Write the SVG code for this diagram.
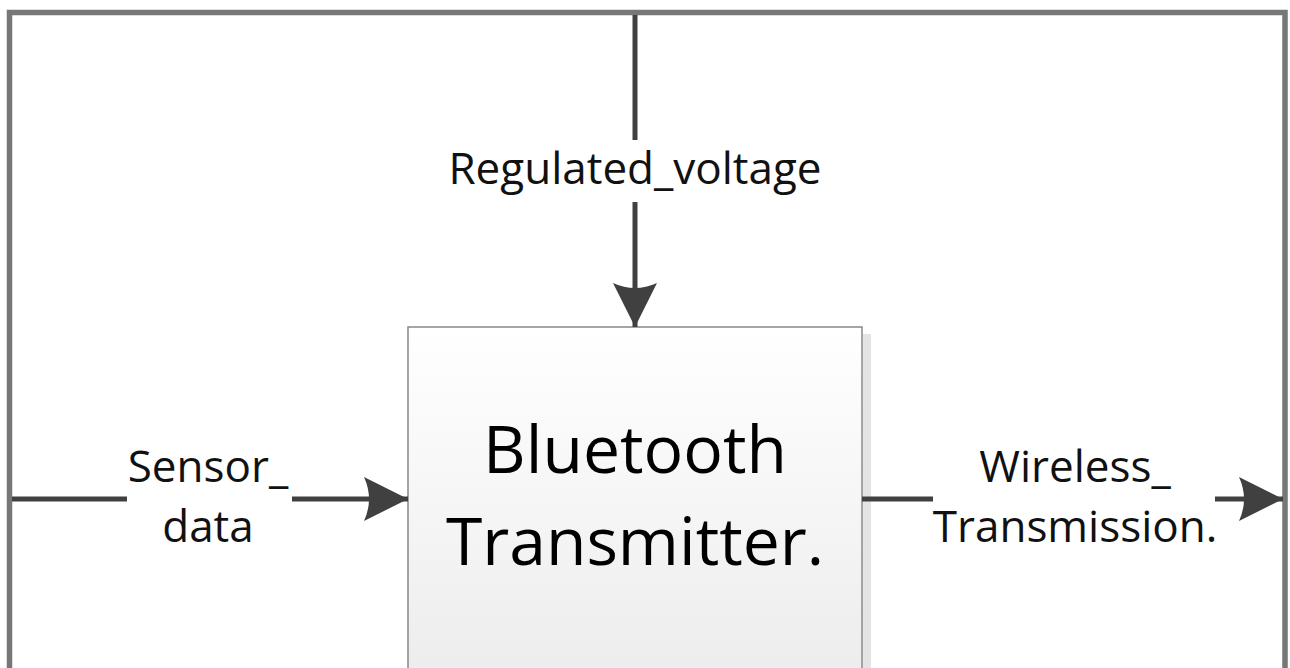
<svg xmlns="http://www.w3.org/2000/svg" width="1290" height="668" viewBox="0 0 1290 668">
<style>
.lbl{font-family:"Open Sans","Noto Sans",sans-serif;font-size:44px;fill:#111;text-anchor:middle}
.big{font-family:"Open Sans","Noto Sans",sans-serif;font-size:66px;fill:#000;text-anchor:middle}
.wire{stroke:#404040;stroke-width:5;fill:none}
</style>
<defs>
<linearGradient id="g" x1="0" y1="0" x2="0" y2="1">
<stop offset="0" stop-color="#ffffff"/>
<stop offset="1" stop-color="#ececec"/>
</linearGradient>
<marker id="ah" viewBox="0 0 44 44" refX="44" refY="22" markerWidth="44" markerHeight="44" markerUnits="userSpaceOnUse" orient="auto">
<path d="M0,0 L44,22 L0,44 Q10,22 0,0 Z" fill="#404040"/>
</marker>
</defs>
<rect width="1290" height="668" fill="#fff"/>
<g id="frame">
<rect x="9.5" y="12.5" width="1275.5" height="700" fill="none" stroke="#777" stroke-width="5.5"/>
</g>
<g id="bluetooth">
<rect x="863" y="334" width="8" height="340" fill="#e4e4e4"/>
<rect x="408" y="327" width="454" height="360" fill="url(#g)" stroke="#888" stroke-width="1.5"/>
<text class="big" x="635" y="473">Bluetooth</text>
<text class="big" x="635" y="565">Transmitter.</text>
</g>
<g id="connectors">
<path class="wire" d="M635,15 V140"/>
<path class="wire" d="M635,202 V327" marker-end="url(#ah)"/>
<path class="wire" d="M12,499 H127"/>
<path class="wire" d="M292,499 H408" marker-end="url(#ah)"/>
<path class="wire" d="M862,499 H933"/>
<path class="wire" d="M1215,499 H1283" marker-end="url(#ah)"/>
<text class="lbl" x="635" y="184">Regulated_voltage</text>
<text class="lbl" x="208" y="482">Sensor_</text>
<text class="lbl" x="208" y="542">data</text>
<text class="lbl" x="1075" y="482">Wireless_</text>
<text class="lbl" x="1075" y="542">Transmission.</text>
</g>
</svg>
